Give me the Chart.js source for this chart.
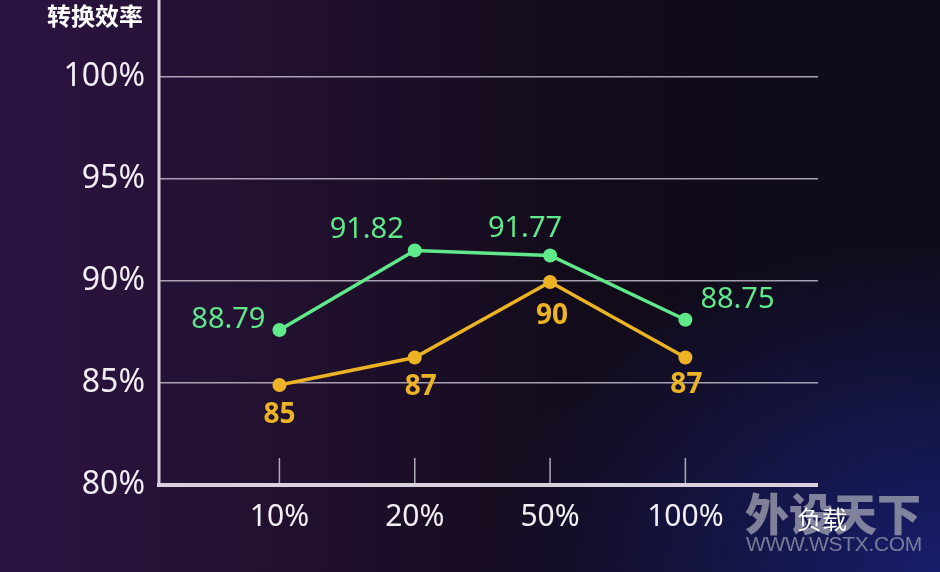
<!DOCTYPE html>
<html>
<head>
<meta charset="utf-8">
<script src="https://cdn.jsdelivr.net/npm/chart.js@4/dist/chart.umd.min.js"></script>
<style>
  html, body { margin: 0; padding: 0; }
  body {
    width: 940px; height: 572px; overflow: hidden; position: relative;
    background:
      radial-gradient(ellipse 460px 340px at 100% 100%, rgba(24,30,112,0.95) 0%, rgba(24,30,112,0) 100%),
      linear-gradient(90deg, #2c1442 0%, #22102f 30%, #120b1a 62%, #0e0b18 100%);
    font-family: "Noto Sans", "Noto Sans CJK SC", sans-serif;
  }
  #wrap { position: absolute; left: 0; top: 0; width: 940px; height: 572px; }
  .txt { position: absolute; white-space: nowrap; }
  #ytitle { left: 47px; top: -3px; color: #fff; font: bold 24px "Noto Sans CJK SC"; }
  #xtitle { left: 797px; top: 500px; color: #fff; font: 25px "Noto Sans CJK SC"; }
  #wm1 { left: 745px; top: 480px; color: rgba(170,170,185,0.72); font: 900 44px "Noto Sans CJK SC"; }
  #wm2 { left: 746px; top: 532px; color: rgba(160,160,178,0.72); font: 21px "Liberation Sans"; letter-spacing: -0.3px; }
</style>
</head>
<body>
<div id="wrap"><canvas id="effChart" width="940" height="572"></canvas></div>
<div class="txt" id="wm1">外设天下</div>
<div class="txt" id="wm2">WWW.WSTX.COM</div>
<div class="txt" id="ytitle">转换效率</div>
<div class="txt" id="xtitle">负载</div>
<script>
// data
const categories = ['10%', '20%', '50%', '100%'];
const greenValues = [87.6, 91.5, 91.25, 88.1];
const greenLabels = ['88.79', '91.82', '91.77', '88.75'];
const yellowValues = [84.9, 86.25, 89.95, 86.25];
const yellowLabels = ['85', '87', '90', '87'];
const yTicks = [80, 85, 90, 95, 100];

// label placement (style only)
const greenLabelPos = [[-14, -10, 'right'], [-11, -21, 'right'], [12, -27, 'right'], [15, -20, 'left']];
const yellowLabelPos = [[0, 30, 'center'], [6, 30, 'center'], [2, 34, 'center'], [1, 28, 'center']];

const GREEN = '#5fe98b';
const YELLOW = '#ecb424';
const AXIS = '#d9d2de';

const decor = {
  id: 'decor',
  beforeDatasetsDraw(chart) {
    const { ctx, chartArea, scales } = chart;
    ctx.save();
    // short ticks above the x axis
    ctx.strokeStyle = 'rgba(215,210,222,0.8)';
    ctx.lineWidth = 1.5;
    categories.forEach((c, i) => {
      const x = scales.x.getPixelForValue(i);
      ctx.beginPath();
      ctx.moveTo(x, chartArea.bottom - 27);
      ctx.lineTo(x, chartArea.bottom);
      ctx.stroke();
    });
    // axes
    ctx.strokeStyle = AXIS;
    ctx.lineWidth = 3;
    ctx.beginPath();
    ctx.moveTo(chartArea.left, 0);
    ctx.lineTo(chartArea.left, chartArea.bottom + 2);
    ctx.stroke();
    ctx.lineWidth = 4;
    ctx.beginPath();
    ctx.moveTo(chartArea.left - 2, chartArea.bottom);
    ctx.lineTo(chartArea.right, chartArea.bottom);
    ctx.stroke();
    ctx.restore();
  },
  afterDatasetsDraw(chart) {
    const { ctx } = chart;
    const sets = [
      { idx: 0, labels: greenLabels, pos: greenLabelPos, color: GREEN, font: '29px "Noto Sans"' },
      { idx: 1, labels: yellowLabels, pos: yellowLabelPos, color: YELLOW, font: 'bold 28px "Noto Sans"' }
    ];
    ctx.save();
    ctx.textBaseline = 'middle';
    sets.forEach(s => {
      const meta = chart.getDatasetMeta(s.idx);
      ctx.fillStyle = s.color;
      ctx.font = s.font;
      meta.data.forEach((pt, i) => {
        const [dx, dy, align] = s.pos[i];
        ctx.textAlign = align;
        ctx.fillText(s.labels[i], pt.x + dx, pt.y + dy);
      });
    });
    ctx.restore();
  }
};

const chart = new Chart(document.getElementById('effChart').getContext('2d'), {
  type: 'line',
  data: {
    datasets: [
      {
        label: 'green',
        data: greenValues.map((v, i) => ({ x: i, y: v })),
        borderColor: GREEN,
        backgroundColor: GREEN,
        borderWidth: 3.5,
        pointRadius: 7,
        pointBorderWidth: 0,
        tension: 0
      },
      {
        label: 'yellow',
        data: yellowValues.map((v, i) => ({ x: i, y: v })),
        borderColor: YELLOW,
        backgroundColor: YELLOW,
        borderWidth: 3.5,
        pointRadius: 7,
        pointBorderWidth: 0,
        tension: 0
      }
    ]
  },
  options: {
    responsive: false,
    animation: false,
    layout: { padding: { top: 77, right: 122, left: 0, bottom: 0 } },
    plugins: { legend: { display: false }, tooltip: { enabled: false } },
    scales: {
      x: {
        type: 'linear',
        min: -0.89,
        max: 3.98,
        afterBuildTicks: s => { s.ticks = categories.map((c, i) => ({ value: i })); },
        afterFit: s => { s.height = 87; },
        grid: { display: false, drawTicks: false },
        border: { display: false },
        ticks: {
          callback: v => categories[v],
          color: '#f2eef4',
          font: { family: 'Noto Sans', size: 30 },
          padding: 14,
          autoSkip: false,
          maxRotation: 0
        }
      },
      y: {
        min: 80,
        max: 100,
        afterBuildTicks: s => { s.ticks = yTicks.map(v => ({ value: v })); },
        afterFit: s => { s.width = 159; },
        grid: {
          color: c => c.tick && c.tick.value === 80 ? 'rgba(0,0,0,0)' : 'rgba(215,210,222,0.75)',
          lineWidth: 1.5,
          drawTicks: false
        },
        border: { display: false },
        ticks: {
          callback: v => v + '%',
          color: '#f2eef4',
          font: { family: 'Noto Sans', size: 32 },
          padding: 14
        }
      }
    }
  },
  plugins: [decor]
});
</script>
</body>
</html>
